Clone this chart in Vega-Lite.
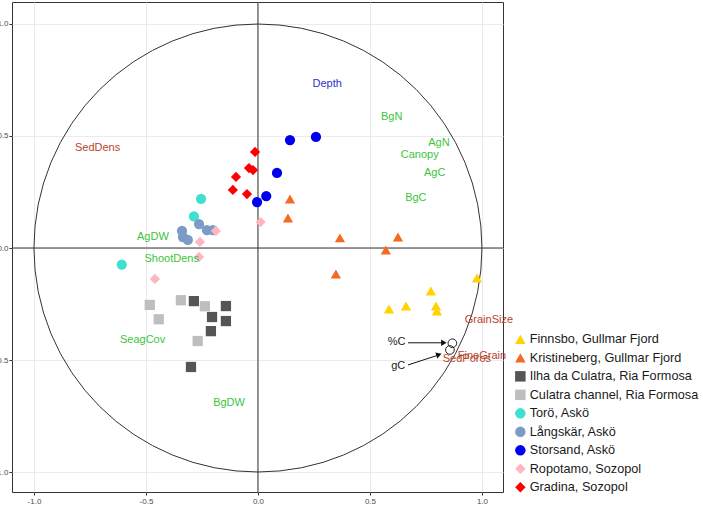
{
  "$schema": "https://vega.github.io/schema/vega-lite/v6.json",
  "width": 491,
  "height": 490,
  "autosize": "none",
  "padding": {"left": 12, "top": 2, "right": 200, "bottom": 14},
  "background": "white",
  "config": {
    "view": {"stroke": "#333333", "strokeWidth": 1},
    "font": "Liberation Sans",
    "axis": {
      "domain": false,
      "grid": true,
      "gridColor": "#EBEBEB",
      "gridWidth": 1,
      "tickColor": "#333333",
      "tickSize": 3,
      "labelFontSize": 8,
      "labelColor": "#4D4D4D",
      "labelFont": "Liberation Sans",
      "title": null
    }
  },
  "datasets": {
    "samples": [
      {"site": "Finnsbo, Gullmar Fjord", "pc1": 0.978, "pc2": -0.134},
      {"site": "Finnsbo, Gullmar Fjord", "pc1": 0.772, "pc2": -0.192},
      {"site": "Finnsbo, Gullmar Fjord", "pc1": 0.585, "pc2": -0.272},
      {"site": "Finnsbo, Gullmar Fjord", "pc1": 0.661, "pc2": -0.259},
      {"site": "Finnsbo, Gullmar Fjord", "pc1": 0.795, "pc2": -0.259},
      {"site": "Finnsbo, Gullmar Fjord", "pc1": 0.799, "pc2": -0.281},
      {"site": "Kristineberg, Gullmar Fjord", "pc1": 0.143, "pc2": 0.219},
      {"site": "Kristineberg, Gullmar Fjord", "pc1": 0.134, "pc2": 0.134},
      {"site": "Kristineberg, Gullmar Fjord", "pc1": 0.366, "pc2": 0.045},
      {"site": "Kristineberg, Gullmar Fjord", "pc1": 0.625, "pc2": 0.049},
      {"site": "Kristineberg, Gullmar Fjord", "pc1": 0.571, "pc2": -0.009},
      {"site": "Kristineberg, Gullmar Fjord", "pc1": 0.348, "pc2": -0.116},
      {"site": "Ilha da Culatra, Ria Formosa", "pc1": -0.286, "pc2": -0.237},
      {"site": "Ilha da Culatra, Ria Formosa", "pc1": -0.143, "pc2": -0.259},
      {"site": "Ilha da Culatra, Ria Formosa", "pc1": -0.205, "pc2": -0.308},
      {"site": "Ilha da Culatra, Ria Formosa", "pc1": -0.143, "pc2": -0.326},
      {"site": "Ilha da Culatra, Ria Formosa", "pc1": -0.210, "pc2": -0.371},
      {"site": "Ilha da Culatra, Ria Formosa", "pc1": -0.299, "pc2": -0.531},
      {"site": "Culatra channel, Ria Formosa", "pc1": -0.483, "pc2": -0.254},
      {"site": "Culatra channel, Ria Formosa", "pc1": -0.344, "pc2": -0.233},
      {"site": "Culatra channel, Ria Formosa", "pc1": -0.237, "pc2": -0.260},
      {"site": "Culatra channel, Ria Formosa", "pc1": -0.443, "pc2": -0.318},
      {"site": "Culatra channel, Ria Formosa", "pc1": -0.269, "pc2": -0.415},
      {"site": "Torö, Askö", "pc1": -0.254, "pc2": 0.219},
      {"site": "Torö, Askö", "pc1": -0.286, "pc2": 0.141},
      {"site": "Torö, Askö", "pc1": -0.608, "pc2": -0.074},
      {"site": "Långskär, Askö", "pc1": -0.339, "pc2": 0.076},
      {"site": "Långskär, Askö", "pc1": -0.335, "pc2": 0.049},
      {"site": "Långskär, Askö", "pc1": -0.313, "pc2": 0.036},
      {"site": "Långskär, Askö", "pc1": -0.263, "pc2": 0.107},
      {"site": "Långskär, Askö", "pc1": -0.228, "pc2": 0.080},
      {"site": "Långskär, Askö", "pc1": -0.201, "pc2": 0.080},
      {"site": "Storsand, Askö", "pc1": 0.143, "pc2": 0.482},
      {"site": "Storsand, Askö", "pc1": 0.259, "pc2": 0.496},
      {"site": "Storsand, Askö", "pc1": 0.085, "pc2": 0.335},
      {"site": "Storsand, Askö", "pc1": 0.037, "pc2": 0.232},
      {"site": "Storsand, Askö", "pc1": -0.004, "pc2": 0.205},
      {"site": "Ropotamo, Sozopol", "pc1": 0.012, "pc2": 0.116},
      {"site": "Ropotamo, Sozopol", "pc1": -0.188, "pc2": 0.076},
      {"site": "Ropotamo, Sozopol", "pc1": -0.259, "pc2": 0.027},
      {"site": "Ropotamo, Sozopol", "pc1": -0.263, "pc2": -0.040},
      {"site": "Ropotamo, Sozopol", "pc1": -0.460, "pc2": -0.138},
      {"site": "Gradina, Sozopol", "pc1": -0.013, "pc2": 0.429},
      {"site": "Gradina, Sozopol", "pc1": -0.098, "pc2": 0.317},
      {"site": "Gradina, Sozopol", "pc1": -0.112, "pc2": 0.259},
      {"site": "Gradina, Sozopol", "pc1": -0.049, "pc2": 0.241},
      {"site": "Gradina, Sozopol", "pc1": -0.040, "pc2": 0.357},
      {"site": "Gradina, Sozopol", "pc1": -0.022, "pc2": 0.348}
    ],
    "variables": [
      {"name": "Depth", "group": "depth", "pc1": 0.309, "pc2": 0.732},
      {"name": "BgN", "group": "seagrass", "pc1": 0.597, "pc2": 0.586},
      {"name": "AgN", "group": "seagrass", "pc1": 0.808, "pc2": 0.467},
      {"name": "Canopy", "group": "seagrass", "pc1": 0.722, "pc2": 0.417},
      {"name": "AgC", "group": "seagrass", "pc1": 0.789, "pc2": 0.335},
      {"name": "BgC", "group": "seagrass", "pc1": 0.705, "pc2": 0.222},
      {"name": "SedDens", "group": "sediment", "pc1": -0.716, "pc2": 0.446},
      {"name": "AgDW", "group": "seagrass", "pc1": -0.469, "pc2": 0.050},
      {"name": "ShootDens", "group": "seagrass", "pc1": -0.385, "pc2": -0.049},
      {"name": "SeagCov", "group": "seagrass", "pc1": -0.515, "pc2": -0.412},
      {"name": "BgDW", "group": "seagrass", "pc1": -0.129, "pc2": -0.692},
      {"name": "GrainSize", "group": "sediment", "pc1": 1.031, "pc2": -0.321},
      {"name": "FineGrain", "group": "sediment", "pc1": 1.0, "pc2": -0.482},
      {"name": "SedPoros", "group": "sediment", "pc1": 0.933, "pc2": -0.496},
      {"name": "%C", "group": "carbon", "pc1": 0.619, "pc2": -0.418},
      {"name": "gC", "group": "carbon", "pc1": 0.626, "pc2": -0.527}
    ],
    "carbonpts": [
      {"pc1": 0.868, "pc2": -0.425},
      {"pc1": 0.857, "pc2": -0.455}
    ],
    "arrows": [
      {"x": 0.670, "y": -0.423, "x2": 0.828, "y2": -0.423},
      {"x": 0.670, "y": -0.522, "x2": 0.805, "y2": -0.478}
    ],
    "head1": [{"x": 0.830, "y": -0.423}],
    "head2": [{"x": 0.808, "y": -0.476}],
    "origin": [{"pc1": 0, "pc2": 0}]
  },
  "resolve": {"scale": {"color": "independent", "shape": "independent"}},
  "layer": [
    {
      "data": {"name": "origin"},
      "mark": {"type": "rule", "color": "#333333", "strokeWidth": 1},
      "encoding": {
        "x": {"field": "pc1", "type": "quantitative", "scale": {"domain": [-1.098, 1.094], "nice": false, "zero": false},
          "axis": {"values": [-1, -0.5, 0, 0.5, 1], "labelExpr": "replace(format(datum.value, '.1f'), '\u2212', '-')", "labelPadding": 2}}
      }
    },
    {
      "data": {"name": "origin"},
      "mark": {"type": "rule", "color": "#333333", "strokeWidth": 1},
      "encoding": {
        "y": {"field": "pc2", "type": "quantitative", "scale": {"domain": [-1.089, 1.098], "nice": false, "zero": false},
          "axis": {"values": [-1, -0.5, 0, 0.5, 1], "labelExpr": "replace(format(datum.value, '.1f'), '\u2212', '-')", "labelPadding": 1}}
      }
    },
    {
      "data": {"name": "origin"},
      "mark": {"type": "point", "shape": "circle", "filled": false, "stroke": "#333333", "strokeWidth": 1, "opacity": 1},
      "encoding": {
        "x": {"field": "pc1", "type": "quantitative", "scale": {"domain": [-1.098, 1.094], "nice": false, "zero": false}},
        "y": {"field": "pc2", "type": "quantitative", "scale": {"domain": [-1.089, 1.098], "nice": false, "zero": false}},
        "size": {"value": 200704}
      }
    },
    {
      "data": {"name": "samples"},
      "mark": {"type": "point", "filled": true, "opacity": 1, "size": 105},
      "encoding": {
        "x": {"field": "pc1", "type": "quantitative", "scale": {"domain": [-1.098, 1.094], "nice": false, "zero": false}},
        "y": {"field": "pc2", "type": "quantitative", "scale": {"domain": [-1.089, 1.098], "nice": false, "zero": false}},
        "color": {
          "field": "site", "type": "nominal",
          "scale": {
            "domain": ["Finnsbo, Gullmar Fjord", "Kristineberg, Gullmar Fjord", "Ilha da Culatra, Ria Formosa", "Culatra channel, Ria Formosa", "Torö, Askö", "Långskär, Askö", "Storsand, Askö", "Ropotamo, Sozopol", "Gradina, Sozopol"],
            "range": ["#FFD200", "#F26A24", "#555555", "#BEBEBE", "#40E0D0", "#7B9CC4", "#0000EE", "#FFB6C1", "#FF0000"]
          },
          "legend": {"title": null, "orient": "none", "legendX": 502, "legendY": 331, "labelFontSize": 12.7, "labelLimit": 220, "labelColor": "#1A1A1A", "labelFont": "Liberation Sans", "symbolSize": 110, "rowPadding": 4.5, "labelOffset": 3, "padding": 0, "symbolStrokeWidth": 0}
        },
        "shape": {
          "field": "site", "type": "nominal",
          "scale": {
            "domain": ["Finnsbo, Gullmar Fjord", "Kristineberg, Gullmar Fjord", "Ilha da Culatra, Ria Formosa", "Culatra channel, Ria Formosa", "Torö, Askö", "Långskär, Askö", "Storsand, Askö", "Ropotamo, Sozopol", "Gradina, Sozopol"],
            "range": ["triangle-up", "triangle-up", "square", "square", "circle", "circle", "circle", "diamond", "diamond"]
          },
          "legend": {"title": null, "orient": "none", "legendX": 502, "legendY": 331, "labelFontSize": 12.7, "labelLimit": 220, "labelColor": "#1A1A1A", "labelFont": "Liberation Sans", "symbolSize": 110, "rowPadding": 4.5, "labelOffset": 3, "padding": 0, "symbolStrokeWidth": 0}
        }
      }
    },
    {
      "data": {"name": "carbonpts"},
      "mark": {"type": "point", "shape": "circle", "filled": false, "stroke": "#222222", "strokeWidth": 1, "size": 75, "opacity": 1},
      "encoding": {
        "x": {"field": "pc1", "type": "quantitative", "scale": {"domain": [-1.098, 1.094], "nice": false, "zero": false}},
        "y": {"field": "pc2", "type": "quantitative", "scale": {"domain": [-1.089, 1.098], "nice": false, "zero": false}}
      }
    },
    {
      "data": {"name": "arrows"},
      "mark": {"type": "rule", "color": "#111111", "strokeWidth": 1},
      "encoding": {
        "x": {"field": "x", "type": "quantitative", "scale": {"domain": [-1.098, 1.094], "nice": false, "zero": false}},
        "y": {"field": "y", "type": "quantitative", "scale": {"domain": [-1.089, 1.098], "nice": false, "zero": false}},
        "x2": {"field": "x2"},
        "y2": {"field": "y2"}
      }
    },
    {
      "data": {"name": "head1"},
      "mark": {"type": "point", "shape": "triangle-right", "filled": true, "color": "#111111", "size": 40, "opacity": 1, "angle": 0},
      "encoding": {
        "x": {"field": "x", "type": "quantitative", "scale": {"domain": [-1.098, 1.094], "nice": false, "zero": false}},
        "y": {"field": "y", "type": "quantitative", "scale": {"domain": [-1.089, 1.098], "nice": false, "zero": false}}
      }
    },
    {
      "data": {"name": "head2"},
      "mark": {"type": "point", "shape": "triangle-right", "filled": true, "color": "#111111", "size": 40, "opacity": 1, "angle": -18},
      "encoding": {
        "x": {"field": "x", "type": "quantitative", "scale": {"domain": [-1.098, 1.094], "nice": false, "zero": false}},
        "y": {"field": "y", "type": "quantitative", "scale": {"domain": [-1.089, 1.098], "nice": false, "zero": false}}
      }
    },
    {
      "data": {"name": "variables"},
      "mark": {"type": "text", "fontSize": 11, "font": "Liberation Sans", "align": "center", "baseline": "middle"},
      "encoding": {
        "x": {"field": "pc1", "type": "quantitative", "scale": {"domain": [-1.098, 1.094], "nice": false, "zero": false}},
        "y": {"field": "pc2", "type": "quantitative", "scale": {"domain": [-1.089, 1.098], "nice": false, "zero": false}},
        "text": {"field": "name"},
        "color": {"field": "group", "type": "nominal",
          "scale": {"domain": ["seagrass", "sediment", "depth", "carbon"], "range": ["#3CC43C", "#B8442C", "#3030D0", "#222222"]},
          "legend": null}
      }
    }
  ]
}
